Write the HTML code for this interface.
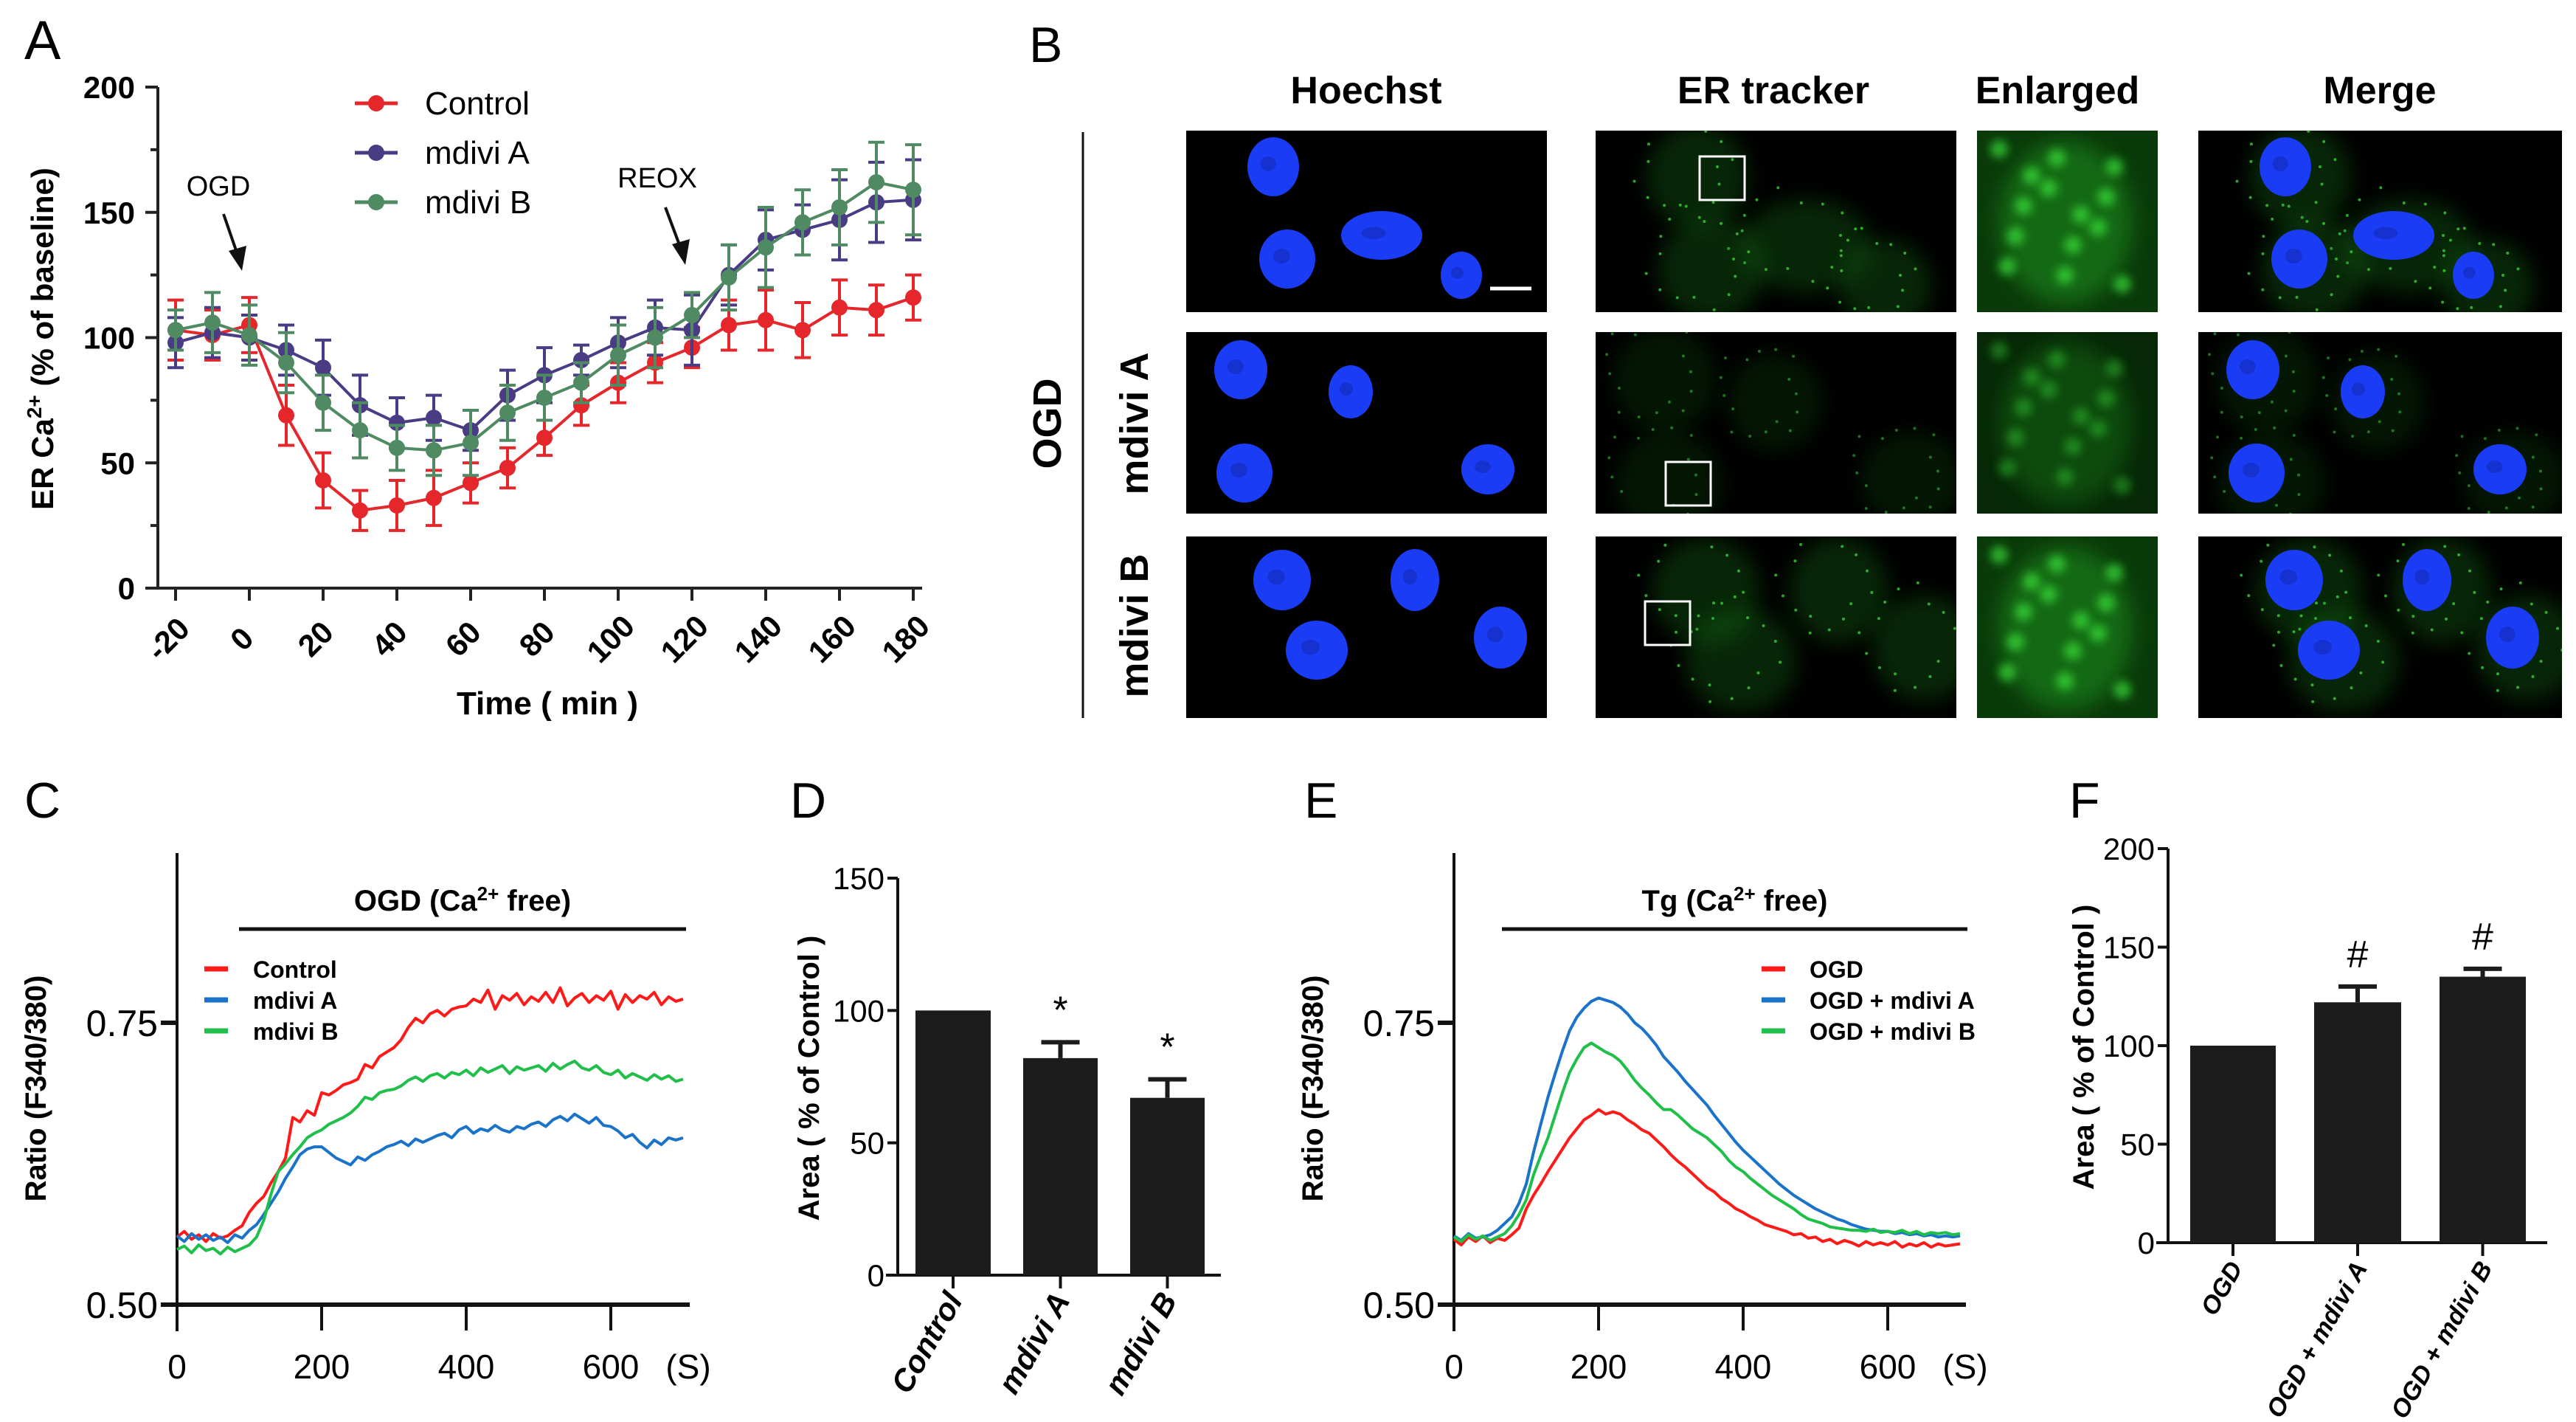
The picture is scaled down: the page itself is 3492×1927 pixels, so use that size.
<!DOCTYPE html>
<html><head><meta charset="utf-8">
<style>
html,body{margin:0;padding:0;background:#fff;}
svg{display:block;}
text{font-family:"Liberation Sans",Arial,sans-serif;}
.nar{font-family:"Liberation Sans Narrow","Liberation Sans",sans-serif;}
</style></head>
<body>
<svg id="fig" xmlns="http://www.w3.org/2000/svg" width="3492" height="1927" viewBox="0 0 3492 1927">
<defs>
<filter id="blur6" x="-50%" y="-50%" width="200%" height="200%"><feGaussianBlur stdDeviation="6"/></filter>
<filter id="blur14" x="-50%" y="-50%" width="200%" height="200%"><feGaussianBlur stdDeviation="14"/></filter>
</defs>
<g id="panelA"></g>
<g id="panelB"></g>
<g id="panelC"></g>
<g id="panelD"></g>
<g id="panelE"></g>
<g id="panelF"></g>
</svg>
<script>
// ---------- Panel A data ----------
const aTimes = [-20,-10,0,10,20,30,40,50,60,70,80,90,100,110,120,130,140,150,160,170,180];
const aControl = [103,101,105,69,43,31,33,36,42,48,60,73,82,90,96,105,107,103,112,111,116];
const aControlErr = [12,10,11,12,11,8,10,11,8,8,7,8,8,8,8,10,12,11,11,10,9];
const aMdiviA = [98,102,100,95,88,73,66,68,63,77,85,91,98,104,103,125,139,143,147,154,155];
const aMdiviAErr = [10,10,9,10,11,12,10,9,8,10,11,6,10,11,14,12,12,10,16,16,16];
const aMdiviB = [103,106,101,90,74,63,56,55,58,70,76,82,93,100,109,124,136,146,152,162,159];
const aMdiviBErr = [8,12,12,12,11,11,9,10,13,11,9,8,12,12,9,13,16,13,15,16,18];
const aYTicks = [0,50,100,150,200];
const aXTicks = [-20,0,20,40,60,80,100,120,140,160,180];
const aLegend = ["Control","mdivi A","mdivi B"];

// ---------- Panel C data (every 10 s, 0..700) ----------
const cControl = [0.56,0.565,0.558,0.562,0.556,0.563,0.559,0.561,0.566,0.57,
0.582,0.59,0.596,0.608,0.618,0.63,0.666,0.662,0.672,0.668,
0.688,0.686,0.69,0.695,0.697,0.70,0.713,0.71,0.72,0.724,
0.728,0.735,0.746,0.754,0.75,0.758,0.761,0.756,0.762,0.764,
0.765,0.771,0.768,0.779,0.762,0.774,0.77,0.776,0.766,0.773,
0.769,0.777,0.768,0.781,0.765,0.772,0.776,0.768,0.774,0.77,
0.778,0.762,0.775,0.768,0.774,0.771,0.777,0.766,0.773,0.769,0.771];
const cMdiviA = [0.561,0.556,0.563,0.558,0.562,0.557,0.56,0.555,0.562,0.559,
0.566,0.571,0.58,0.59,0.6,0.612,0.622,0.633,0.638,0.64,
0.64,0.635,0.63,0.627,0.624,0.631,0.628,0.633,0.636,0.64,
0.642,0.645,0.641,0.647,0.644,0.647,0.65,0.652,0.648,0.655,
0.658,0.652,0.656,0.654,0.659,0.655,0.653,0.658,0.656,0.66,
0.662,0.658,0.664,0.667,0.663,0.669,0.665,0.661,0.666,0.659,
0.658,0.654,0.648,0.651,0.644,0.639,0.646,0.642,0.648,0.646,0.648];
const cMdiviB = [0.549,0.552,0.546,0.553,0.548,0.55,0.545,0.551,0.547,0.55,
0.553,0.56,0.575,0.598,0.618,0.625,0.633,0.64,0.648,0.652,
0.655,0.66,0.663,0.666,0.67,0.676,0.684,0.682,0.688,0.69,
0.691,0.694,0.699,0.702,0.698,0.703,0.705,0.701,0.706,0.704,
0.708,0.703,0.71,0.706,0.709,0.712,0.705,0.711,0.708,0.71,
0.712,0.707,0.714,0.709,0.713,0.716,0.71,0.708,0.712,0.706,
0.704,0.708,0.701,0.705,0.702,0.699,0.704,0.7,0.703,0.698,0.70];
const cLegend = ["Control","mdivi A","mdivi B"];

// ---------- Panel D data ----------
const dCats = ["Control","mdivi A","mdivi B"];
const dVals = [100,82,67];
const dErr = [0,6,7];
const dYTicks = [0,50,100,150];

// ---------- Panel E data ----------
const eOGD = [0.558,0.553,0.56,0.556,0.561,0.555,0.559,0.557,0.562,0.568,
0.585,0.597,0.607,0.618,0.628,0.638,0.648,0.656,0.664,0.668,
0.673,0.669,0.671,0.669,0.664,0.66,0.655,0.652,0.646,0.64,
0.633,0.627,0.622,0.616,0.61,0.604,0.6,0.594,0.59,0.585,
0.582,0.578,0.575,0.571,0.569,0.567,0.565,0.562,0.563,0.559,
0.56,0.556,0.558,0.554,0.557,0.555,0.552,0.556,0.553,0.555,
0.553,0.556,0.551,0.554,0.552,0.555,0.551,0.554,0.552,0.553,0.554];
const eMdiviA = [0.561,0.557,0.563,0.559,0.56,0.562,0.566,0.572,0.578,0.59,
0.607,0.635,0.66,0.684,0.705,0.725,0.743,0.755,0.763,0.769,
0.772,0.77,0.768,0.764,0.758,0.75,0.745,0.738,0.73,0.72,
0.713,0.706,0.698,0.691,0.684,0.677,0.668,0.66,0.652,0.644,
0.637,0.631,0.625,0.619,0.613,0.607,0.602,0.597,0.593,0.589,
0.585,0.582,0.579,0.576,0.574,0.571,0.569,0.567,0.566,0.565,
0.565,0.563,0.564,0.562,0.563,0.561,0.562,0.56,0.561,0.56,0.561];
const eMdiviB = [0.56,0.556,0.562,0.558,0.561,0.557,0.56,0.563,0.57,0.58,
0.593,0.615,0.632,0.648,0.668,0.688,0.706,0.718,0.728,0.732,
0.728,0.724,0.721,0.716,0.708,0.699,0.692,0.686,0.679,0.673,
0.673,0.668,0.662,0.656,0.652,0.648,0.642,0.636,0.628,0.622,
0.618,0.612,0.607,0.602,0.597,0.593,0.589,0.585,0.58,0.576,
0.574,0.572,0.569,0.568,0.567,0.566,0.566,0.565,0.567,0.564,
0.565,0.564,0.566,0.563,0.565,0.562,0.564,0.563,0.564,0.562,0.563];
const eLegend = ["OGD","OGD + mdivi A","OGD + mdivi B"];

// ---------- Panel F data ----------
const fCats = ["OGD","OGD + mdivi A","OGD + mdivi B"];
const fVals = [100,122,135];
const fErr = [0,8,4];
const fYTicks = [0,50,100,150,200];

const traceTimes = cControl.map((_, i) => i * 10);
const timeTicks = [0,200,400,600];

const NS = "http://www.w3.org/2000/svg";
function mk(parent, tag, attrs, txt) {
  const el = document.createElementNS(NS, tag);
  for (const k in attrs) el.setAttribute(k, attrs[k]);
  if (txt !== undefined) el.textContent = txt;
  parent.appendChild(el);
  return el;
}
function lin(d0, d1, r0, r1) { return v => r0 + (v - d0) / (d1 - d0) * (r1 - r0); }

// ================= Panel A =================
(function(){
  const g = document.getElementById('panelA');
  const x = lin(-20, 180, 238, 1238);
  const y = lin(0, 200, 797, 118);
  let t = mk(g,'text',{x:33,y:80,'font-size':74});
  t.textContent = 'A';
  
  
  let ax = mk(g,'line',{x1:214,y1:118,x2:214,y2:798,stroke:'#222','stroke-width':4});
  
  
  ax = mk(g,'line',{x1:197,y1:797,x2:1250,y2:797,stroke:'#222','stroke-width':4});
  
  
  for (let v = 0; v <= 200; v += 25) {
    mk(g,'line',{x1:v%50===0?197:204,y1:y(v),x2:214,y2:y(v),stroke:'#222','stroke-width':4});
  }
  aYTicks.forEach(v => {
    const tt = mk(g,'text',{x:183,y:y(v)+15,'font-size':42,'font-weight':'bold','text-anchor':'end'}, String(v));
    
    
  });
  aXTicks.forEach(v => {
    mk(g,'line',{x1:x(v),y1:797,x2:x(v),y2:814,stroke:'#222','stroke-width':4});
    const tt = mk(g,'text',{x:0,y:0,'font-size':42,'font-weight':'bold','text-anchor':'middle',
      transform:`translate(${x(v)},${876}) rotate(-45)`}, String(v));
    
    
  });
  t = mk(g,'text',{x:742,y:968,'font-size':44,'font-weight':'bold','text-anchor':'middle'},'Time ( min )');
  
  
  t = mk(g,'text',{x:0,y:0,'font-size':42,'font-weight':'bold','text-anchor':'middle',transform:'translate(72,459) rotate(-90)'});
  t.innerHTML = 'ER Ca<tspan font-size="28" dy="-16">2+</tspan><tspan dy="16"> (% of baseline)</tspan>';
  
  
  t = mk(g,'text',{x:296,y:265,'font-size':38,'text-anchor':'middle'},'OGD');
  
  
  mk(g,'line',{x1:303,y1:290,x2:322,y2:345,stroke:'#111','stroke-width':4});
  mk(g,'polygon',{points:'328,367 310,340 334,333',fill:'#111'});
  t = mk(g,'text',{x:891,y:254,'font-size':38,'text-anchor':'middle'},'REOX');
  
  
  mk(g,'line',{x1:902,y1:281,x2:923,y2:337,stroke:'#111','stroke-width':4});
  mk(g,'polygon',{points:'929,359 911,331 935,324',fill:'#111'});

  const series = [
    {vals:aControl, err:aControlErr, color:'#e5262b', name:'control'},
    {vals:aMdiviA, err:aMdiviAErr, color:'#4a3b85', name:'mdivi-a'},
    {vals:aMdiviB, err:aMdiviBErr, color:'#4f8a62', name:'mdivi-b'}
  ];
  series.forEach((s, si) => {
    const sg = mk(g,'g',{});
    
    
    s.vals.forEach((v, i) => {
      const cx = x(aTimes[i]);
      mk(sg,'line',{x1:cx,y1:y(v+s.err[i]),x2:cx,y2:y(v-s.err[i]),stroke:s.color,'stroke-width':4});
      mk(sg,'line',{x1:cx-11,y1:y(v+s.err[i]),x2:cx+11,y2:y(v+s.err[i]),stroke:s.color,'stroke-width':4});
      mk(sg,'line',{x1:cx-11,y1:y(v-s.err[i]),x2:cx+11,y2:y(v-s.err[i]),stroke:s.color,'stroke-width':4});
    });
    mk(sg,'polyline',{points:s.vals.map((v,i)=>x(aTimes[i])+','+y(v)).join(' '),fill:'none',stroke:s.color,'stroke-width':4});
    s.vals.forEach((v, i) => {
      const c = mk(sg,'circle',{cx:x(aTimes[i]),cy:y(v),r:11,fill:s.color});
      
      
    });
    const ly = 140 + si*67;
    const le = mk(g,'g',{});
    
    
    mk(le,'line',{x1:481,y1:ly,x2:539,y2:ly,stroke:s.color,'stroke-width':5});
    mk(le,'circle',{cx:510,cy:ly,r:11,fill:s.color});
    mk(le,'text',{x:576,y:ly+15,'font-size':44},aLegend[si]);
  });
})();

// ================= Panel B (micrographs) =================
(function(){
  const g = document.getElementById('panelB');
  let t = mk(g,'text',{x:1395,y:84,'font-size':68},'B');
  
  
  const heads = [['Hoechst',1852],['ER tracker',2404],['Enlarged',2789],['Merge',3226]];
  heads.forEach(h => {
    const tt = mk(g,'text',{x:h[1],y:140,'font-size':52,'font-weight':'bold','text-anchor':'middle'},h[0]);
    
    
  });
  mk(g,'line',{x1:1468,y1:179,x2:1468,y2:973,stroke:'#111','stroke-width':3});
  t = mk(g,'text',{x:0,y:0,'font-size':54,'font-weight':'bold','text-anchor':'middle',transform:'translate(1438,574) rotate(-90)'},'OGD');
  
  
  t = mk(g,'text',{x:0,y:0,'font-size':54,'font-weight':'bold','text-anchor':'middle',transform:'translate(1556,574) rotate(-90)'},'mdivi A');
  
  
  t = mk(g,'text',{x:0,y:0,'font-size':54,'font-weight':'bold','text-anchor':'middle',transform:'translate(1556,848) rotate(-90)'},'mdivi B');
  
  

  const rows = [177,450,727];
  const H = 246;
  const cols = [[1608,489],[2163,489],[2680,245],[2980,493]];
  const nuclei = [
    [[118,49,35,40],[265,142,55,33],[137,174,38,40],[373,196,28,32]],
    [[74,51,36,40],[223,81,30,36],[79,191,38,40],[409,186,36,34]],
    [[130,59,39,41],[310,59,33,42],[177,154,42,40],[426,137,36,42]]
  ];
  const boxes = [[141,35],[95,176],[67,88]];
  rows.forEach((ry, ri) => {
    cols.forEach((c, ci) => {
      const pg = mk(g,'g',{});
      
      
      mk(pg,'rect',{x:c[0],y:ry,width:c[1],height:H,fill:'#000'});
      const clipId = 'clip'+ri+'_'+ci;
      const cp = mk(pg,'clipPath',{id:clipId});
      mk(cp,'rect',{x:c[0],y:ry,width:c[1],height:H});
      const inner = mk(pg,'g',{'clip-path':`url(#${clipId})`});
      if (ci === 1 || ci === 3) {
        nuclei[ri].forEach(n => {
          mk(inner,'ellipse',{cx:c[0]+n[0]+20,cy:ry+n[1]+14,rx:n[2]+34,ry:n[3]+30,fill:'#1a8a1a',opacity:ri===1?0.16:0.28,filter:'url(#blur14)'});
          for (let k = 0; k < 16; k++) {
            const ang = k * 0.41 + ri;
            const rr = 12 + (k % 4) * 7;
            mk(inner,'circle',{cx:c[0]+n[0]+Math.cos(ang)*(n[2]+rr),cy:ry+n[1]+Math.sin(ang)*(n[3]+rr),r:2,fill:'#3fd83f',opacity:ri===1?0.5:0.75});
          }
        });
      }
      if (ci === 0 || ci === 3) {
        nuclei[ri].forEach(n => {
          mk(inner,'ellipse',{cx:c[0]+n[0],cy:ry+n[1],rx:n[2],ry:n[3],fill:'#1a3cf5'});
          mk(inner,'ellipse',{cx:c[0]+n[0]-n[2]*0.2,cy:ry+n[1]-n[3]*0.1,rx:n[2]*0.3,ry:n[3]*0.25,fill:'#122ab8',opacity:0.6});
        });
      }
      if (ci === 2) {
        mk(inner,'rect',{x:c[0],y:ry,width:c[1],height:H,fill:ri===1?'#062806':'#0a3a0a'});
        mk(inner,'ellipse',{cx:c[0]+120,cy:ry+125,rx:90,ry:110,fill:'#1c8a1c',opacity:ri===1?0.35:0.6,filter:'url(#blur14)'});
        for (let k = 0; k < 14; k++) {
          mk(inner,'circle',{cx:c[0]+30+((k*67)%190),cy:ry+25+((k*53)%200),r:12,fill:'#3be23b',opacity:ri===1?0.4:0.7,filter:'url(#blur6)'});
        }
      }
      if (ci === 1) {
        const b = mk(inner,'rect',{x:c[0]+boxes[ri][0],y:ry+boxes[ri][1],width:61,height:59,fill:'none',stroke:'#fff','stroke-width':3});
        
        
      }
      if (ci === 0 && ri === 0) {
        const sb = mk(inner,'line',{x1:2020,y1:391,x2:2076,y2:391,stroke:'#fff','stroke-width':5});
        
        
      }
    });
  });
})();

// ================= Trace panels (C, E) =================
function tracePanel(id, letter, lx, axX, xEnd, barText, barX0, barX1, series, legend, legX, legTextX){
  const g = document.getElementById(id);
  const x = lin(0, 600, axX, axX + 588);
  const y = lin(0.5, 0.75, 1768, 1386);
  let t = mk(g,'text',{x:lx,y:1108,'font-size':68},letter);
  
  
  let a = mk(g,'line',{x1:axX,y1:1156,x2:axX,y2:1804,stroke:'#111','stroke-width':4});
  
  
  a = mk(g,'line',{x1:axX-22,y1:1768,x2:xEnd,y2:1768,stroke:'#111','stroke-width':6});
  
  
  mk(g,'line',{x1:axX-22,y1:y(0.75),x2:axX,y2:y(0.75),stroke:'#111','stroke-width':6});
  [[0.75,'0.75'],[0.5,'0.50']].forEach(p => {
    const tt = mk(g,'text',{x:axX-26,y:y(p[0])+18,'font-size':50,'text-anchor':'end','class':'nar'},p[1]);
    
    
  });
  timeTicks.forEach(v => {
    mk(g,'line',{x1:x(v),y1:1768,x2:x(v),y2:1803,stroke:'#111','stroke-width':4});
    const tt = mk(g,'text',{x:x(v),y:1868,'font-size':46,'text-anchor':'middle','class':'nar'},String(v));
    
    
  });
  t = mk(g,'text',{x:axX+693,y:1868,'font-size':46,'text-anchor':'middle','class':'nar'},'(S)');
  
  
  t = mk(g,'text',{x:0,y:0,'font-size':40,'font-weight':'bold','text-anchor':'middle',transform:`translate(${axX-178},1475) rotate(-90)`},'Ratio (F340/380)');
  
  
  const bar = mk(g,'line',{x1:barX0,y1:1259,x2:barX1,y2:1259,stroke:'#111','stroke-width':5});
  
  
  t = mk(g,'text',{x:(barX0+barX1)/2,y:1234,'font-size':40,'font-weight':'bold','text-anchor':'middle','class':'nar'});
  t.innerHTML = barText + ' (Ca<tspan font-size="26" dy="-14">2+</tspan><tspan dy="14"> free)</tspan>';
  
  
  series.forEach((s, si) => {
    const p = mk(g,'polyline',{points:s.vals.map((v,i)=>x(traceTimes[i])+','+y(v)).join(' '),fill:'none',stroke:s.color,'stroke-width':4,'stroke-linejoin':'round'});
    
    
    const ly = 1313 + si*42;
    const le = mk(g,'g',{});
    
    
    mk(le,'line',{x1:legX,y1:ly,x2:legX+32,y2:ly,stroke:s.color,'stroke-width':7});
    mk(le,'text',{x:legTextX,y:ly+12,'font-size':32,'font-weight':'bold','class':'nar'},legend[si]);
  });
}
tracePanel('panelC','C',33,240,935,'OGD',324,930,[
  {vals:cControl,color:'#ff1a1a',name:'control'},
  {vals:cMdiviA,color:'#1a73c9',name:'mdivi-a'},
  {vals:cMdiviB,color:'#1fbf4a',name:'mdivi-b'}], cLegend, 277, 343);
tracePanel('panelE','E',1768,1971,2665,'Tg',2036,2667,[
  {vals:eOGD,color:'#ff1a1a',name:'ogd'},
  {vals:eMdiviA,color:'#1a73c9',name:'ogd-mdivi-a'},
  {vals:eMdiviB,color:'#1fbf4a',name:'ogd-mdivi-b'}], eLegend, 2388, 2453);

// ================= Bar panels (D, F) =================
function barPanel(id, letter, lx, axX, y0, yTop, vmax, xEnd, bars, cats, vals, errs, ticks, mark, titleX, titleY, labelSize){
  const g = document.getElementById(id);
  const y = lin(0, vmax, y0, yTop);
  let t = mk(g,'text',{x:lx,y:1108,'font-size':68},letter);
  
  
  let a = mk(g,'line',{x1:axX,y1:yTop,x2:axX,y2:y0,stroke:'#111','stroke-width':4});
  
  
  a = mk(g,'line',{x1:axX-16,y1:y0,x2:xEnd,y2:y0,stroke:'#111','stroke-width':4});
  
  
  ticks.forEach(v => {
    mk(g,'line',{x1:axX-14,y1:y(v),x2:axX,y2:y(v),stroke:'#111','stroke-width':4});
    const tt = mk(g,'text',{x:axX-18,y:y(v)+15,'font-size':42,'text-anchor':'end','class':'nar'},String(v));
    
    
  });
  t = mk(g,'text',{x:0,y:0,'font-size':40,'font-weight':'bold','text-anchor':'middle',transform:`translate(${titleX},${titleY}) rotate(-90)`},'Area ( % of Control )');
  
  
  vals.forEach((v, i) => {
    const b = bars[i];
    const r = mk(g,'rect',{x:b[0],y:y(v),width:b[1]-b[0],height:y0-y(v),fill:'#1c1c1c'});
    
    
    const cx = (b[0]+b[1])/2;
    if (errs[i] > 0) {
      mk(g,'line',{x1:cx,y1:y(v),x2:cx,y2:y(v+errs[i]),stroke:'#1c1c1c','stroke-width':6});
      mk(g,'line',{x1:cx-26,y1:y(v+errs[i]),x2:cx+26,y2:y(v+errs[i]),stroke:'#1c1c1c','stroke-width':6});
      const m = mk(g,'text',{x:cx,y:y(v+errs[i])-26,'font-size':52,'text-anchor':'middle'},mark);
      
      
    }
    mk(g,'line',{x1:cx,y1:y0,x2:cx,y2:y0+18,stroke:'#111','stroke-width':4});
    const tt = mk(g,'text',{x:0,y:0,'font-size':labelSize,'font-style':'italic','font-weight':'bold','text-anchor':'end',transform:`translate(${cx+14},${y0+34}) rotate(-60)`},cats[i]);
    
    
  });
}
barPanel('panelD','D',1071,1217,1728,1190,150,1655,[[1241,1343],[1387,1488],[1532,1633]],dCats,dVals,dErr,dYTicks,'*',1110,1461,42);
barPanel('panelF','F',2805,2939,1684,1150,200,3453,[[2969,3085],[3137,3255],[3307,3424]],fCats,fVals,fErr,fYTicks,'#',2838,1419,34);
</script>
</body></html>
